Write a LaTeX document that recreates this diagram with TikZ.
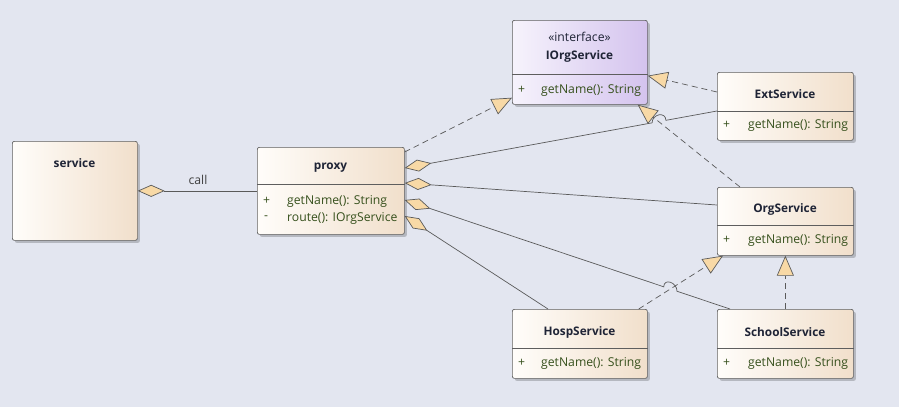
\documentclass[tikz,border=0pt]{standalone}
\usepackage{fontspec}
\setmainfont{Open Sans}
\usetikzlibrary{arrows.meta,calc,shadows}
\definecolor{bgc}{HTML}{E3E6F0}
\definecolor{bordc}{HTML}{5E5E5E}
\definecolor{linec}{HTML}{5A5A5A}
\definecolor{tanc}{HTML}{F8D9A6}
\definecolor{clsL}{HTML}{FFFDFA}
\definecolor{clsR}{HTML}{F1DFCB}
\definecolor{ifL}{HTML}{F6F3FC}
\definecolor{ifR}{HTML}{D4C3EE}
\definecolor{namec}{HTML}{1F2436}
\definecolor{methc}{HTML}{36501C}
\begin{document}
\begin{tikzpicture}[x=1pt,y=-1pt,
  cls/.style={draw=bordc, line width=0.7pt, rounded corners=2pt, left color=clsL, right color=clsR,
    anchor=north west, inner sep=0pt,
    drop shadow={shadow xshift=2.5pt, shadow yshift=-2.5pt, fill=black, opacity=0.2}},
  iface/.style={cls, left color=ifL, right color=ifR},
  divl/.style={draw=bordc, line width=0.7pt},
  title/.style={font=\fontsize{11.8}{14}\selectfont\bfseries, text=namec, inner sep=0pt},
  stereo/.style={font=\fontsize{12.2}{14}\selectfont, text=namec, inner sep=0pt},
  methp/.style={font=\fontsize{12.2}{14}\selectfont, text=methc, inner sep=0pt, anchor=west},
  lbl/.style={font=\fontsize{12.2}{14}\selectfont, text=black!75, inner sep=0pt},
  aggr/.style={draw=linec, line width=0.7pt, {Diamond[length=27pt,width=12pt,fill=tanc]}-},
  real/.style={draw=linec, line width=0.7pt, dash pattern=on 6pt off 4pt,
    -{Triangle[length=20pt,width=17pt,fill=tanc]}}
]
\fill[bgc] (0,0) rectangle (899,407);
\useasboundingbox (0,0) rectangle (899,407);

% ---------- classes ----------
\node[cls, minimum width=125pt, minimum height=99pt] (service) at (12,141) {};
\node[title] (serviceT) at (74.5,163) {service};

\node[cls, minimum width=147pt, minimum height=87pt] (proxy) at (257,147) {};
\draw[divl] (proxy.west |- 0,184) -- (proxy.east |- 0,184);
\node[title] (proxyT) at (330.5,168) {proxy};
\node[methp] (proxyP1) at (263,201) {+};
\node[methp] (proxyM1) at (287,201) {getName(): String};
\node[methp] (proxyP2) at (264,218) {-};
\node[methp] (proxyM2) at (287,218) {route(): IOrgService};

\node[iface, minimum width=135pt, minimum height=84pt] (iorg) at (512,20) {};
\draw[divl] (iorg.west |- 0,74) -- (iorg.east |- 0,74);
\node[stereo] (iorgS) at (579.5,37) {«interface»};
\node[title] (iorgT) at (579.5,56) {IOrgService};
\node[methp] (iorgP1) at (518,90) {+};
\node[methp] (iorgM1) at (541,90) {getName(): String};

\node[cls, minimum width=136pt, minimum height=68pt] (ext) at (717,72) {};
\draw[divl] (ext.west |- 0,111) -- (ext.east |- 0,111);
\node[title] (extT) at (785,94) {ExtService};
\node[methp] (extP1) at (723,125) {+};
\node[methp] (extM1) at (748,125) {getName(): String};

\node[cls, minimum width=136pt, minimum height=68pt] (org) at (717,187) {};
\draw[divl] (org.west |- 0,225) -- (org.east |- 0,225);
\node[title] (orgT) at (785,209) {OrgService};
\node[methp] (orgP1) at (723,240) {+};
\node[methp] (orgM1) at (748,240) {getName(): String};

\node[cls, minimum width=135pt, minimum height=69pt] (hosp) at (512,309) {};
\draw[divl] (hosp.west |- 0,348) -- (hosp.east |- 0,348);
\node[title] (hospT) at (579.5,332) {HospService};
\node[methp] (hospP1) at (518,363) {+};
\node[methp] (hospM1) at (541,363) {getName(): String};

\node[cls, minimum width=136pt, minimum height=69pt] (school) at (717,309) {};
\draw[divl] (school.west |- 0,348) -- (school.east |- 0,348);
\node[title] (schoolT) at (785,332) {SchoolService};
\node[methp] (schoolP1) at (723,363) {+};
\node[methp] (schoolM1) at (748,363) {getName(): String};

% ---------- connectors ----------
% service -- proxy
\draw[aggr] (service.east) -- (proxy.west);
\node[lbl] (callL) at (198,180) {call};

% realizations to IOrgService
\draw[real] ([yshift=-5pt]proxy.north east) -- ([yshift=7pt]iorg.south west);
\draw[real] ([yshift=-20pt]ext.north west) -- ([yshift=29pt]iorg.south east);
\draw[real] ([xshift=23pt]org.north west) -- ([xshift=-10pt]iorg.south east);

% realizations to OrgService
\draw[real] ([xshift=-9pt]hosp.north east) -- ([xshift=6pt]org.south west);
\draw[real] (school.north) -- (org.south -| school.north);

% aggregations from proxy
\coordinate (a5) at ([yshift=-21pt]proxy.north east);
\coordinate (b5) at ([yshift=-39pt]ext.north west);
\draw[aggr] (a5) -- ($(a5)!0.7921!(b5)$)
  .. controls ($(a5)!0.7921!(b5)+(0,-9)$) and ($(a5)!0.8363!(b5)+(0,-9)$) .. ($(a5)!0.8363!(b5)$)
  -- (b5);

\draw[aggr] ([yshift=-36pt]proxy.north east) -- ([yshift=-18pt]org.north west);

\coordinate (a7) at ([yshift=-53pt]proxy.north east);
\coordinate (b7) at ([xshift=13pt]school.north west);
\draw[aggr] (a7) -- ($(a7)!0.7963!(b7)$)
  .. controls ($(a7)!0.7963!(b7)+(0,-9)$) and ($(a7)!0.8371!(b7)+(0,-9)$) .. ($(a7)!0.8371!(b7)$)
  -- (b7);

\draw[aggr] ([yshift=-69pt]proxy.north east) -- ([xshift=36pt]hosp.north west);
\end{tikzpicture}
\end{document}
